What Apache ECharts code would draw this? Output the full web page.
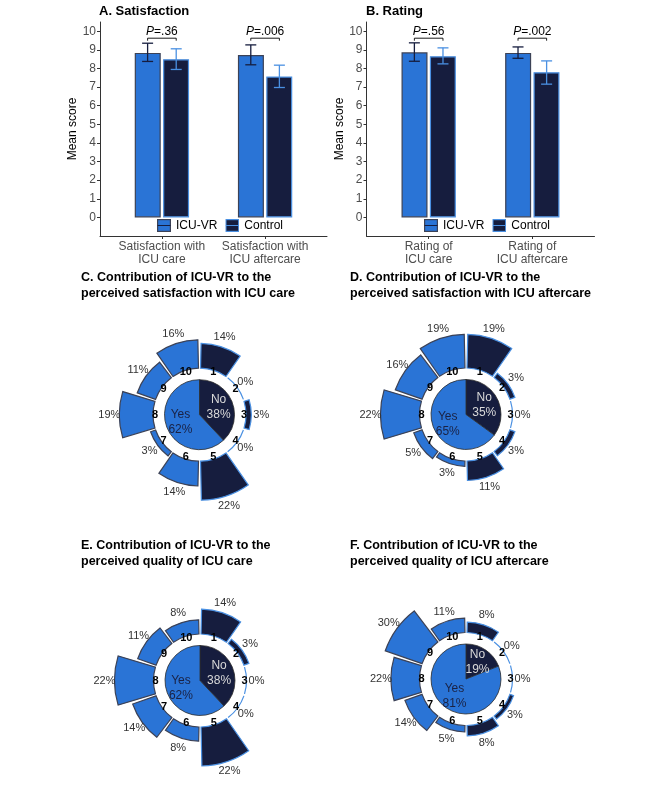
<!DOCTYPE html>
<html>
<head>
<meta charset="utf-8">
<script src="https://cdn.jsdelivr.net/npm/echarts@6/dist/echarts.min.js"></script>
<style>
html,body{margin:0;padding:0;background:#fff;}
#chart{width:666px;height:799px;}
</style>
</head>
<body>
<div id="chart"></div>
<script>
// ---------- Data ----------
const satCategories = ['Satisfaction with\nICU care', 'Satisfaction with\nICU aftercare'];
const ratCategories = ['Rating of\nICU care', 'Rating of\nICU aftercare'];
const seriesNames = ['ICU-VR', 'Control'];

const satVR = [8.84, 8.73];
const satVRLow = [8.38, 8.20];
const satVRHigh = [9.36, 9.27];
const satCtrl = [8.50, 7.57];
const satCtrlLow = [7.95, 6.98];
const satCtrlHigh = [9.06, 8.18];
const satP = ['.36', '.006'];

const ratVR = [8.87, 8.84];
const ratVRLow = [8.39, 8.55];
const ratVRHigh = [9.38, 9.16];
const ratCtrl = [8.66, 7.80];
const ratCtrlLow = [8.25, 7.16];
const ratCtrlHigh = [9.11, 8.41];
const ratP = ['.56', '.002'];

const yTicks = [0,1,2,3,4,5,6,7,8,9,10];
const bracketLevel = 9.63;

const ringCategories = ['1','2','3','4','5','6','7','8','9','10'];
const pieNames = ['No', 'Yes'];
const pieC = [38, 62];
const outerC = [14, 0, 3, 0, 22, 14, 3, 19, 11, 16];
const pieD = [35, 65];
const outerD = [19, 3, 0, 3, 11, 3, 5, 22, 16, 19];
const pieE = [38, 62];
const outerE = [14, 3, 0, 0, 22, 8, 14, 22, 11, 8];
const pieF = [19, 81];
const outerF = [8, 0, 0, 3, 8, 5, 14, 22, 30, 11];

// ---------- Styles ----------
const FONT = 'Liberation Sans, Arial, sans-serif';
const BLUE = '#2a74d6';
const NAVY = '#161d3e';
const LIGHT = '#4a90e2';
const DARKBORDER = '#3c4256';
const TICKCOL = '#4d4d4d';

function keyIcon(fill, stroke, line) {
  const svg = '<svg xmlns="http://www.w3.org/2000/svg" width="28" height="26" viewBox="0 0 28 26">' +
    '<rect x="1.2" y="1.2" width="25.6" height="23.6" fill="' + fill + '" stroke="' + stroke + '" stroke-width="2.4"/>' +
    '<line x1="1" y1="13" x2="27" y2="13" stroke="' + line + '" stroke-width="2"/></svg>';
  return 'image://data:image/svg+xml;charset=utf-8,' + encodeURIComponent(svg);
}
const legendIcons = [keyIcon(BLUE, DARKBORDER, NAVY), keyIcon(NAVY, LIGHT, LIGHT)];

const barGrids = [
  {left: 100, top: 22, width: 227, height: 214},
  {left: 366.5, top: 22, width: 228, height: 214}
];
const panels = [
  {cats: satCategories, vr: satVR, vrL: satVRLow, vrH: satVRHigh, c: satCtrl, cL: satCtrlLow, cH: satCtrlHigh, p: satP},
  {cats: ratCategories, vr: ratVR, vrL: ratVRLow, vrH: ratVRHigh, c: ratCtrl, cL: ratCtrlLow, cH: ratCtrlHigh, p: ratP}
];
const OFF = 14.3; // pixel offset of each bar from category centre

function errorBarSeries(gi, name, low, high, offset, color) {
  return {
    type: 'custom', name: name, xAxisIndex: gi, yAxisIndex: gi, silent: true, z: 5,
    data: low.map((l, i) => [i + 1, l, high[i]]),
    renderItem: function (params, api) {
      const lo = api.coord([api.value(0), api.value(1)]);
      const hi = api.coord([api.value(0), api.value(2)]);
      const x = lo[0] + offset, hw = 5.5;
      const st = {stroke: color, lineWidth: 1.3, fill: null};
      return {type: 'group', children: [
        {type: 'line', shape: {x1: x, y1: lo[1], x2: x, y2: hi[1]}, style: st},
        {type: 'line', shape: {x1: x - hw, y1: lo[1], x2: x + hw, y2: lo[1]}, style: st},
        {type: 'line', shape: {x1: x - hw, y1: hi[1], x2: x + hw, y2: hi[1]}, style: st}
      ]};
    }
  };
}
function bracketSeries(gi, pvals) {
  return {
    type: 'custom', xAxisIndex: gi, yAxisIndex: gi, silent: true, z: 6,
    data: pvals.map((p, i) => [i + 1, bracketLevel, p]),
    renderItem: function (params, api) {
      const c = api.coord([api.value(0), api.value(1)]);
      const txt = pvals[params.dataIndex];
      return {type: 'group', children: [
        {type: 'polyline', shape: {points: [[c[0] - OFF, c[1] + 2.5], [c[0] - OFF, c[1]], [c[0] + OFF, c[1]], [c[0] + OFF, c[1] + 2.5]]},
          style: {stroke: '#000', lineWidth: 0.9, fill: null}},
        {type: 'text', x: c[0], y: c[1] - 0.5, style: {
          text: '{i|P}{n|=' + txt + '}', align: 'center', verticalAlign: 'bottom',
          rich: {i: {fontStyle: 'italic', fontSize: 12, fontFamily: FONT, fill: '#000'},
                 n: {fontSize: 12, fontFamily: FONT, fill: '#000'}}
        }}
      ]};
    }
  };
}

const series = [];
const xAxes = [], yAxes = [];
panels.forEach((pn, gi) => {
  xAxes.push({
    type: 'value', gridIndex: gi, min: 0.4, max: 2.6, splitLine: {show: false},
    axisLine: {show: true, onZero: false, lineStyle: {color: '#333', width: 1}},
    axisTick: {show: true, customValues: [1, 2], length: 3, lineStyle: {color: '#333'}},
    axisLabel: {customValues: [1, 2], formatter: v => pn.cats[Math.round(v) - 1],
      color: TICKCOL, fontSize: 12, lineHeight: 13, margin: 4, fontFamily: FONT}
  });
  yAxes.push({
    type: 'value', gridIndex: gi, min: -1, max: 10.5, splitLine: {show: false},
    axisLine: {show: true, lineStyle: {color: '#333', width: 1}},
    axisTick: {show: true, customValues: yTicks, length: 3, lineStyle: {color: '#333'}},
    axisLabel: {customValues: yTicks, color: TICKCOL, fontSize: 12, margin: 4, fontFamily: FONT},
    name: 'Mean score', nameLocation: 'middle', nameGap: 19,
    nameTextStyle: {color: '#000', fontSize: 12, fontFamily: FONT}
  });
  series.push({
    type: 'bar', name: seriesNames[0], xAxisIndex: gi, yAxisIndex: gi,
    data: pn.vr.map((v, i) => [i + 1, v]), barWidth: 26, barGap: '9%',
    itemStyle: {color: BLUE, borderColor: DARKBORDER, borderWidth: 1.2}, silent: true
  });
  series.push({
    type: 'bar', name: seriesNames[1], xAxisIndex: gi, yAxisIndex: gi,
    data: pn.c.map((v, i) => [i + 1, v]), barWidth: 26, barGap: '9%',
    itemStyle: {color: NAVY, borderColor: LIGHT, borderWidth: 1.2}, silent: true
  });
  series.push(errorBarSeries(gi, seriesNames[0], pn.vrL, pn.vrH, -OFF, NAVY));
  series.push(errorBarSeries(gi, seriesNames[1], pn.cL, pn.cH, OFF, LIGHT));
  series.push(bracketSeries(gi, pn.p));
});

// ---------- Polar panels ----------
const polarDefs = [
  {center: [199.5, 414.7], pie: pieC, outer: outerC},
  {center: [466, 414.5], pie: pieD, outer: outerD},
  {center: [200, 680.5], pie: pieE, outer: outerE},
  {center: [466, 679], pie: pieF, outer: outerF}
];
const polars = [], angleAxes = [], radiusAxes = [];
polarDefs.forEach((pd, pi) => {
  polars.push({center: pd.center, radius: [46.5, 85.5]});
  angleAxes.push({polarIndex: pi, type: 'category', data: ringCategories, startAngle: 90, clockwise: true,
    axisLine: {show: false}, axisTick: {show: false}, axisLabel: {show: false}, splitLine: {show: false}});
  radiusAxes.push({polarIndex: pi, type: 'value', min: 0, max: v => v.max,
    axisLine: {show: false}, axisTick: {show: false}, axisLabel: {show: false}, splitLine: {show: false}});
  series.push({
    type: 'bar', coordinateSystem: 'polar', polarIndex: pi, silent: true,
    barCategoryGap: '7%',
    data: pd.outer.map((v, k) => ({value: v, itemStyle: k < 5
      ? {color: NAVY, borderColor: LIGHT, borderWidth: 1.2}
      : {color: BLUE, borderColor: DARKBORDER, borderWidth: 1.2}}))
  });
  // percentage labels just outside each bar
  series.push({
    type: 'custom', coordinateSystem: 'polar', polarIndex: pi, silent: true, z: 4,
    data: pd.outer.map((v, k) => [v, k]),
    renderItem: function (params, api) {
      const cs = params.coordSys;
      const v = api.value(0);
      const p = api.coord([v, api.value(1)]);
      const dx = p[0] - cs.cx, dy = p[1] - cs.cy;
      const d = Math.sqrt(dx * dx + dy * dy) || 1;
      const rr = d + 10;
      return {type: 'text', x: cs.cx + dx / d * rr, y: cs.cy + dy / d * rr, style: {
        text: v + '%', align: 'center', verticalAlign: 'middle',
        fontSize: 11, fontFamily: FONT, fill: '#333'}};
    }
  });
  series.push({
    type: 'pie', center: pd.center, radius: [0, 35], startAngle: 90, clockwise: true, silent: true,
    avoidLabelOverlap: false, emphasis: {disabled: true},
    itemStyle: {borderColor: '#2b2b2b', borderWidth: 0.8},
    data: pieNames.map((n, k) => ({name: n, value: pd.pie[k],
      itemStyle: {color: k === 0 ? NAVY : BLUE},
      label: {color: k === 0 ? '#d9d9d9' : '#1a2244'}})),
    label: {show: true, position: 'inside', formatter: '{b}\n{c}%', fontSize: 12, lineHeight: 15, fontFamily: FONT},
    labelLine: {show: false}
  });
  series.push({
    type: 'pie', center: pd.center, radius: [37, 46], startAngle: 90, clockwise: true, silent: true,
    avoidLabelOverlap: false, emphasis: {disabled: true}, minShowLabelAngle: 0,
    itemStyle: {color: 'rgba(0,0,0,0)'},
    data: ringCategories.map(c => ({name: c, value: 1})),
    label: {show: true, position: 'inside', formatter: '{b}', fontSize: 11, fontWeight: 'bold', color: '#000', fontFamily: FONT},
    labelLine: {show: false}
  });
});

const titleStyle = {fontSize: 13, fontWeight: 'bold', color: '#000', fontFamily: FONT, lineHeight: 16};
const titleStyle2 = {fontSize: 12.5, fontWeight: 'bold', color: '#000', fontFamily: FONT, lineHeight: 16};
const legendData = seriesNames.map((n, k) => ({name: n, icon: legendIcons[k]}));
const option = {
  animation: false,
  backgroundColor: '#fff',
  title: [
    {text: 'A. Satisfaction', left: 99, top: 3, padding: 0, textStyle: titleStyle},
    {text: 'B. Rating', left: 366, top: 3, padding: 0, textStyle: titleStyle},
    {text: 'C. Contribution of ICU-VR to the\nperceived satisfaction with ICU care', left: 81, top: 270, padding: 0, textStyle: titleStyle2},
    {text: 'D. Contribution of ICU-VR to the\nperceived satisfaction with ICU aftercare', left: 350, top: 270, padding: 0, textStyle: titleStyle2},
    {text: 'E. Contribution of ICU-VR to the\nperceived quality of ICU care', left: 81, top: 538, padding: 0, textStyle: titleStyle2},
    {text: 'F. Contribution of ICU-VR to the\nperceived quality of ICU aftercare', left: 350, top: 538, padding: 0, textStyle: titleStyle2}
  ],
  legend: [
    {left: 157, top: 219, padding: 0, itemWidth: 14, itemHeight: 13, itemGap: 8, selectedMode: false,
      data: legendData, textStyle: {fontSize: 12, color: '#000', fontFamily: FONT}},
    {left: 424, top: 219, padding: 0, itemWidth: 14, itemHeight: 13, itemGap: 8, selectedMode: false,
      data: legendData, textStyle: {fontSize: 12, color: '#000', fontFamily: FONT}}
  ],
  grid: barGrids,
  xAxis: xAxes,
  yAxis: yAxes,
  polar: polars,
  angleAxis: angleAxes,
  radiusAxis: radiusAxes,
  series: series
};
const chart = echarts.init(document.getElementById('chart'), null, {renderer: 'canvas'});
chart.setOption(option);
</script>
</body>
</html>
